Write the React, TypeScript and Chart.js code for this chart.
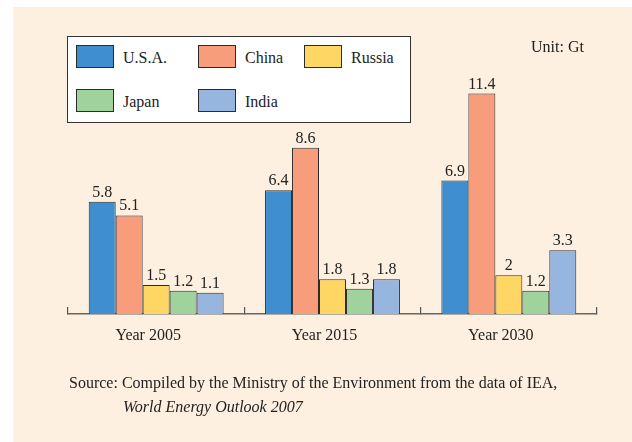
import React, { useEffect, useRef } from "react";
import { Chart, registerables } from "chart.js";

Chart.register(...registerables);

const categories = ["Year 2005", "Year 2015", "Year 2030"];
const seriesNames = ["U.S.A.", "China", "Russia", "Japan", "India"];
const usa = [5.8, 6.4, 6.9];
const china = [5.1, 8.6, 11.4];
const russia = [1.5, 1.8, 2];
const japan = [1.2, 1.3, 1.2];
const india = [1.1, 1.8, 3.3];
const seriesValues = [usa, china, russia, japan, india];
const seriesColors = ["#3f8fd0", "#f79d7c", "#fed664", "#9fd29c", "#97b6df"];
const unitText = "Unit: Gt";
const sourceLine1 = "Source: Compiled by the Ministry of the Environment from the data of IEA,";
const sourceLine2 = "World Energy Outlook 2007";

const FONT = "'Liberation Serif', 'Times New Roman', serif";

const valueLabels = {
  id: "valueLabels",
  afterDatasetsDraw(chart: any) {
    const ctx = chart.ctx;
    ctx.save();
    ctx.font = `16px ${FONT}`;
    ctx.fillStyle = "#222";
    ctx.textAlign = "center";
    ctx.textBaseline = "alphabetic";
    chart.data.datasets.forEach((ds: any, di: number) => {
      const meta = chart.getDatasetMeta(di);
      meta.data.forEach((bar: any, i: number) => {
        ctx.fillText(String(ds.data[i]), bar.x, bar.y - 5);
      });
    });
    ctx.restore();
  },
};

export default function App() {
  const ref = useRef<HTMLCanvasElement | null>(null);

  useEffect(() => {
    if (!ref.current) return;
    const chart = new Chart(ref.current, {
      type: "bar",
      data: {
        labels: categories,
        datasets: seriesNames.map((name, i) => ({
          label: name,
          data: seriesValues[i],
          backgroundColor: seriesColors[i],
          borderColor: "#2b2b2b",
          borderWidth: 1,
          categoryPercentage: 0.765,
          barPercentage: 1.0,
        })),
      },
      options: {
        responsive: false,
        animation: false,
        layout: { padding: { left: 68, right: 35, top: 82, bottom: 88 } },
        plugins: {
          legend: { display: false },
          tooltip: { enabled: false },
          title: { display: false },
        },
        scales: {
          x: {
            grid: {
              display: true,
              drawOnChartArea: false,
              drawTicks: true,
              tickLength: -7,
              color: "#555",
              lineWidth: 1.2,
              offset: true,
            },
            border: { display: true, color: "#666", width: 1.5 },
            ticks: {
              color: "#222",
              font: { family: FONT, size: 16 },
              padding: 19,
              labelOffset: -8,
            },
            afterFit: (scale: any) => {
              scale.height = 40;
            },
          },
          y: {
            display: false,
            min: 0,
            max: 12,
          },
        },
      },
      plugins: [valueLabels],
    });
    return () => chart.destroy();
  }, []);

  const legendCols = [76, 198, 304];
  const legendRows = [45, 89];

  return (
    <div style={{ position: "absolute", left: 0, top: 0, width: 632, height: 442, overflow: "hidden", fontFamily: FONT }}>
      <div style={{ position: "absolute", left: 13, top: 7, width: 619, height: 435, background: "#fdf0e1" }} />
      <canvas ref={ref} width={632} height={442} style={{ position: "absolute", left: 0, top: 0, width: 632, height: 442 }} />
      <div
        style={{
          position: "absolute",
          left: 67,
          top: 36,
          width: 344,
          height: 87,
          boxSizing: "border-box",
          border: "1.5px solid #333",
          background: "#ffffff",
        }}
      />
      {seriesNames.map((name, i) => {
        const col = legendCols[i % 3];
        const row = legendRows[Math.floor(i / 3)];
        return (
          <React.Fragment key={name}>
            <div
              style={{
                position: "absolute",
                left: col,
                top: row,
                width: 38,
                height: 23,
                boxSizing: "border-box",
                border: "1px solid #2b2b2b",
                background: seriesColors[i],
              }}
            />
            <div
              style={{
                position: "absolute",
                left: col + 47,
                top: row + 1,
                height: 23,
                lineHeight: "23px",
                fontSize: 16,
                color: "#222",
                whiteSpace: "nowrap",
              }}
            >
              {name}
            </div>
          </React.Fragment>
        );
      })}
      <div style={{ position: "absolute", left: 531, top: 36, lineHeight: "22px", fontSize: 16, color: "#222", whiteSpace: "nowrap" }}>
        {unitText}
      </div>
      <div style={{ position: "absolute", left: 69, top: 372, lineHeight: "22px", fontSize: 16, color: "#222", whiteSpace: "nowrap" }}>
        {sourceLine1}
      </div>
      <div
        style={{
          position: "absolute",
          left: 123,
          top: 396,
          lineHeight: "22px",
          fontSize: 16,
          fontStyle: "italic",
          color: "#222",
          whiteSpace: "nowrap",
        }}
      >
        {sourceLine2}
      </div>
    </div>
  );
}
